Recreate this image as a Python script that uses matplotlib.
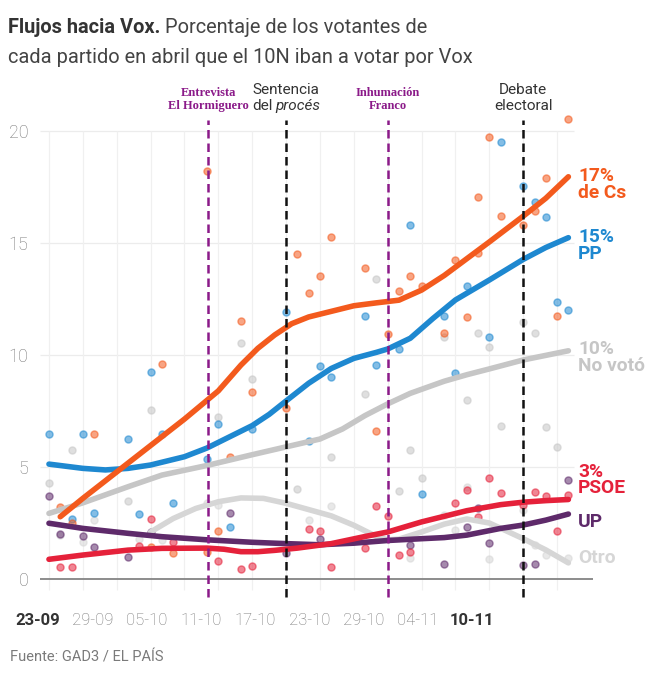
import matplotlib
matplotlib.use('Agg')
import matplotlib.pyplot as plt
import numpy as np
from matplotlib import font_manager
from matplotlib.transforms import offset_copy

# x = days since 23-09 (10-11 is day 48)
# smoothed trends
cs_days = [1, 3, 6, 9, 12, 15, 17, 18.5, 20, 21.5, 23, 25, 27, 29, 31, 33, 35, 37, 39, 42, 44, 46]
cs_vals = [2.78, 3.6, 4.78, 5.96, 7.14, 8.4, 9.55, 10.3, 10.9, 11.4, 11.7, 11.95, 12.2, 12.33, 12.45, 12.9,
           13.55, 14.3, 15.05, 16.2, 17.0, 17.96]
pp_days = [0, 3, 5, 7, 9, 12, 14, 16, 18, 19.5, 21, 23, 25, 27, 29, 30, 32, 34, 36, 39, 42, 44, 46]
pp_vals = [5.13, 4.94, 4.87, 4.94, 5.09, 5.46, 5.85, 6.35, 6.85, 7.35, 7.95, 8.74, 9.4, 9.85, 10.12, 10.27,
           10.75, 11.63, 12.46, 13.35, 14.27, 14.8, 15.24]
nv_days = [0, 3, 7, 10, 14, 18, 21, 24, 26, 28, 30, 32, 35, 37, 39, 42, 46]
nv_vals = [2.93, 3.4, 4.12, 4.64, 5.07, 5.55, 5.9, 6.25, 6.7, 7.3, 7.82, 8.29, 8.83, 9.12, 9.38, 9.78, 10.19]
otro_days = [9, 11, 13, 15, 17, 19, 21, 23, 25, 27, 29, 30, 31, 33, 35, 37, 39, 42, 44, 46]
otro_vals = [2.1, 2.7, 3.15, 3.45, 3.62, 3.6, 3.38, 3.1, 2.82, 2.4, 1.9, 1.75, 1.78, 2.1, 2.45, 2.68, 2.5, 1.8,
             1.3, 0.72]
psoe_days = [0, 3, 7, 10, 14, 15.5, 17, 18.5, 20, 22, 25, 28, 30, 33, 37, 40, 42, 44, 46]
psoe_vals = [0.88, 1.07, 1.29, 1.37, 1.38, 1.33, 1.22, 1.22, 1.28, 1.38, 1.58, 1.9, 2.1, 2.55, 3.05, 3.32,
             3.43, 3.5, 3.55]
up_days = [0, 3, 7, 10, 14, 18, 21, 24, 27, 30, 33, 35, 37, 40, 42, 44, 46]
up_vals = [2.49, 2.26, 2.04, 1.89, 1.75, 1.64, 1.58, 1.53, 1.6, 1.72, 1.8, 1.85, 1.96, 2.26, 2.41, 2.63, 2.9]

# daily tracking values
cs_pt_days = [1, 2, 4, 9, 10, 11, 14, 14, 15, 16, 17, 18, 21, 22, 23, 24, 25, 28, 29, 30, 31, 32, 33, 35, 36,
              37, 38, 38, 39, 40, 42, 43, 44, 45, 46]
cs_pt_vals = [3.2, 2.5, 6.47, 1.44, 9.58, 1.15, 18.23, 1.2, 2.16, 5.46, 11.53, 8.33, 7.62, 14.49, 12.77, 13.54,
              15.25, 13.87, 6.61, 10.92, 12.86, 13.54, 13.1, 11.0, 14.24, 11.68, 14.55, 17.07, 19.72, 16.2, 15.8,
              16.44, 17.92, 11.76, 20.56]
pp_pt_days = [0, 2, 3, 4, 7, 8, 9, 10, 11, 14, 15, 16, 18, 21, 23, 24, 25, 28, 29, 31, 32, 33, 35, 36, 37, 39,
              40, 42, 43, 44, 45, 46]
pp_pt_vals = [6.47, 2.66, 6.47, 2.96, 6.24, 2.9, 9.26, 6.47, 3.41, 5.36, 6.92, 2.34, 6.68, 11.92, 6.16, 9.51,
              9.03, 11.76, 9.55, 10.27, 15.8, 3.79, 11.76, 9.18, 13.1, 10.82, 19.5, 17.54, 16.84, 16.15, 12.38, 12.0]
nv_pt_days = [0, 2, 7, 9, 15, 17, 18, 22, 25, 28, 29, 31, 32, 33, 35, 37, 38, 39, 40, 42, 43, 44, 45]
nv_pt_vals = [4.27, 5.76, 3.48, 7.54, 7.25, 10.52, 8.95, 4.02, 5.43, 8.24, 13.39, 3.95, 5.76, 4.49, 10.82, 8.0,
              11.0, 10.34, 6.85, 11.46, 11.0, 6.77, 5.91]
otro_pt_days = [1, 3, 4, 8, 10, 14, 15, 23, 25, 32, 35, 36, 37, 39, 42, 43, 44, 46]
otro_pt_vals = [1.95, 1.67, 2.64, 1.8, 1.74, 3.41, 3.3, 2.63, 3.26, 0.95, 2.85, 2.2, 4.09, 0.9, 3.08, 1.5, 1.07,
                0.92]
psoe_pt_days = [1, 2, 8, 9, 11, 15, 17, 18, 23, 24, 25, 28, 29, 30, 31, 32, 36, 37, 38, 39, 40, 42, 43, 44,
                45, 46]
psoe_pt_vals = [0.52, 0.52, 1.47, 2.7, 1.67, 0.82, 0.45, 0.57, 2.23, 2.16, 0.52, 1.37, 3.26, 2.8, 1.07, 1.22,
                3.38, 3.97, 2.75, 4.5, 3.82, 3.3, 3.88, 3.7, 2.15, 3.74]
up_pt_days = [0, 1, 3, 4, 7, 9, 16, 21, 24, 32, 35, 37, 38, 39, 42, 43, 46]
up_pt_vals = [3.72, 2.0, 1.92, 1.44, 1.0, 2.1, 2.93, 1.15, 1.77, 1.53, 0.69, 2.32, 3.19, 1.63, 0.62, 0.67, 4.42]

event_names = [('Entrevista', 'El Hormiguero'), ('Sentencia', 'del'), ('Inhumación', 'Franco'),
               ('Debate', 'electoral')]
event_days = [14.1, 21, 30, 42]
event_purple = [True, False, True, False]

date_labels = ['23-09', '29-09', '05-10', '11-10', '17-10', '23-10', '29-10', '04-11', '10-11']

names = {f.name for f in font_manager.fontManager.ttflist}
NARROW = 'Liberation Sans Narrow' if 'Liberation Sans Narrow' in names else 'Roboto'
LIGHT = 'Roboto'
SERIF = 'Liberation Serif' if 'Liberation Serif' in names else 'DejaVu Serif'
plt.rcParams['font.family'] = [NARROW, 'DejaVu Sans']

ORANGE = '#F35A1D'
BLUE = '#1E88D0'
GREY = '#C6C6C6'
LGREY = '#D6D6D6'
RED = '#E5213A'
PURPLE = '#5E2A6A'
EVENT_PURPLE = '#8B1A89'

fig = plt.figure(figsize=(6.5, 6.8), dpi=100)
fig.patch.set_facecolor('white')
ax = fig.add_axes([38 / 650, 75 / 680, 562 / 650, 495 / 680])
ax.set_xlim(-0.794, 48.8)
ax.set_ylim(-1.16, 20.94)
for s in ax.spines.values():
    s.set_visible(False)

# grid
ax.hlines([5, 10, 15, 20], -0.8, 46.5, color='#ECECEC', lw=0.9, zorder=0)
ax.vlines(np.arange(0, 46, 3), -0.5, 20, color='#F0F0F0', lw=0.9, zorder=0)
ax.hlines(0, -0.8, 48.2, color='#8C8C8C', lw=1.4, zorder=1)

series = [
    (otro_days, otro_vals, otro_pt_days, otro_pt_vals, LGREY, 'Otro', 0.22),
    (nv_days, nv_vals, nv_pt_days, nv_pt_vals, GREY, '10%\nNo votó', -0.3),
    (pp_days, pp_vals, pp_pt_days, pp_pt_vals, BLUE, '15%\nPP', -0.35),
    (cs_days, cs_vals, cs_pt_days, cs_pt_vals, ORANGE, '17%\nde Cs', -0.36),
    (up_days, up_vals, up_pt_days, up_pt_vals, PURPLE, 'UP', -0.36),
    (psoe_days, psoe_vals, psoe_pt_days, psoe_pt_vals, RED, '3%\nPSOE', 0.87),
]

for i, (d, v, pd_, pv, col, label, off) in enumerate(series):
    ax.scatter(pd_, pv, s=26, facecolor=col, edgecolor=col, alpha=0.55, linewidth=1, zorder=2)
for i, (d, v, pd_, pv, col, label, off) in enumerate(series):
    ax.plot(d, v, color=col, lw=4, solid_capstyle='round', solid_joinstyle='round', zorder=3 + i)
    ax.text(46.85, v[-1] + off, label, color=col, fontsize=13.8, fontweight='bold', family=[NARROW, 'DejaVu Sans'],
            ha='left', va='center', linespacing=0.92, clip_on=False, zorder=10)

# events
for day, purple in zip(event_days, event_purple):
    ax.vlines(day, -0.8, 20.5, color=EVENT_PURPLE if purple else '#111111', lw=1.8,
              linestyles=(0, (3.4, 2.0)), zorder=9)


def text_runs(x, y, runs, transform, center=False, gap=4):
    r = fig.canvas.get_renderer()
    objs = [fig.text(x, y, s, transform=transform, va='baseline', ha='left', **style) for s, style in runs]
    widths = [t.get_window_extent(r).width for t in objs]
    total = sum(widths) + gap * (len(objs) - 1)
    start = -total / 2 if center else 0
    for t, w in zip(objs, widths):
        t.set_transform(offset_copy(transform, fig=fig, x=start, y=0, units='dots'))
        start += w + gap
    return objs


for (l1, l2), day, purple in zip(event_names, event_days, event_purple):
    if purple:
        st = dict(color=EVENT_PURPLE, fontsize=9, fontweight='bold', family=SERIF)
        ax.text(day, 20.85, l1 + '\n' + l2, ha='center', va='bottom', linespacing=1.15, clip_on=False, **st)
    else:
        st = dict(color='#333333', fontsize=11, family=[NARROW, 'DejaVu Sans'])
        ax.text(day, 21.5, l1, ha='center', va='bottom', clip_on=False, **st)
        if l2 == 'del':
            text_runs(day, 20.95, [('del', st), ('procés', dict(st, fontstyle='italic'))], ax.transData,
                      center=True, gap=3)
        else:
            ax.text(day, 20.95, l2, ha='center', va='baseline', clip_on=False, **st)

# ticks
ax.set_yticks([0, 5, 10, 15, 20])
ax.tick_params(axis='y', length=0, pad=7, labelsize=13, labelcolor='#777777')
ax.set_xticks(np.linspace(-0.97, 37.5, 9), date_labels)
ax.tick_params(axis='x', length=0, pad=6, labelsize=12, labelcolor='#777777')
for lbl in ax.get_yticklabels() + ax.get_xticklabels():
    lbl.set_family([LIGHT, 'DejaVu Sans'])
    lbl.set_fontweight('light')
for lbl in (ax.get_xticklabels()[0], ax.get_xticklabels()[-1]):
    lbl.set_fontweight('bold')
    lbl.set_color('#333333')

# title, fitted to the original line width
r = fig.canvas.get_renderer()
probe = fig.text(0, 0, 'cada partido en abril que el 10N iban a votar por Vox', fontsize=16)
tsize = 16 * 465 / probe.get_window_extent(r).width
probe.remove()
text_runs(8 / 650, 1 - 33 / 680, [('Flujos hacia Vox.', dict(fontsize=tsize, fontweight='bold', color='#333333')),
                                   ('Porcentaje de los votantes de', dict(fontsize=tsize, color='#444444'))],
          fig.transFigure, gap=tsize * 0.3)
fig.text(8 / 650, 1 - 63 / 680, 'cada partido en abril que el 10N iban a votar por Vox', fontsize=tsize,
         color='#444444', va='baseline')

fig.text(10 / 650, 1 - 657 / 680, 'Fuente: GAD3 / EL PAÍS', fontsize=10.5, color='#7A7A7A', va='center',
         family=[LIGHT, 'DejaVu Sans'])

fig.savefig('out.png', dpi=100)
